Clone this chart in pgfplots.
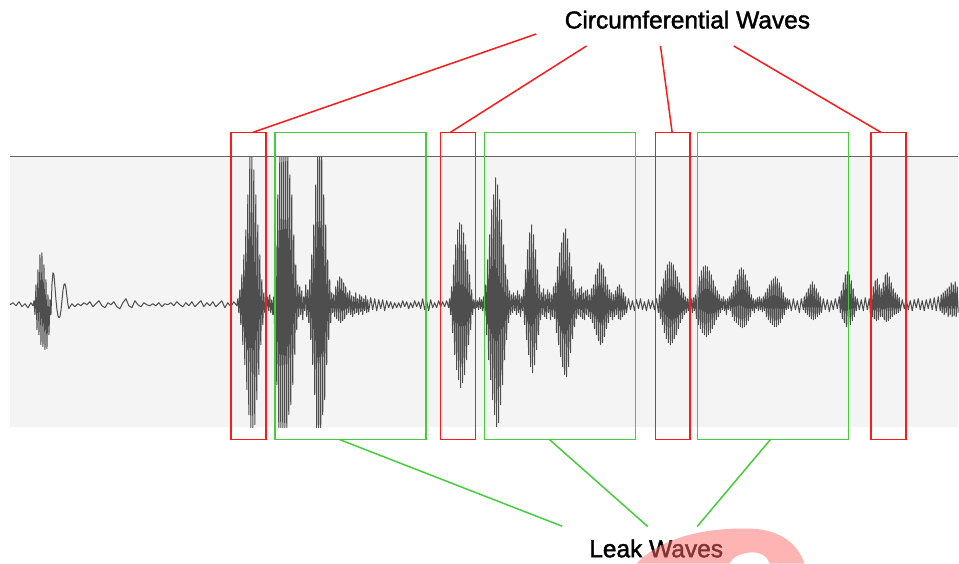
\documentclass[border=0pt]{standalone}
\usepackage{fontspec}
\setmainfont{Liberation Sans}
\newfontfamily\labelfont[FakeBold=1.6]{Liberation Sans}
\usepackage{pgfplots}
\pgfplotsset{compat=1.18}
\definecolor{redbox}{RGB}{255,25,25}
\definecolor{greenbox}{RGB}{70,205,60}
\definecolor{bggray}{RGB}{244,244,244}
\definecolor{topline}{RGB}{100,100,100}
\definecolor{wave}{RGB}{78,78,78}
\definecolor{wm}{RGB}{255,105,105}
\begin{document}
\begin{tikzpicture}
\begin{axis}[scale only axis, width=959pt, height=564pt,
  xmin=0, xmax=959, ymin=-259, ymax=305, hide axis, clip=false]
\path (axis cs:0,-259) rectangle (axis cs:959,305);
% background of the trace area
\addplot[fill=bggray, draw=none] coordinates {(10,148) (959,148) (959,-122.5) (10,-122.5)} -- cycle;
\addplot[topline, line width=1.6pt] coordinates {(10,148.5) (959,148.5)};
% waveform (pixel amplitude about the midline, clipped at the window edges)
\addplot[wave, line width=1.0pt, line join=round] coordinates {
(10,0) (13,2) (16,-1) (19,3) (22,-2) (25,1) (28,-3) (31,2) (33,-1)
(34,4) (35,-10) (36,20) (37,-25) (38,35) (39,-30) (40,50) (41,-40) (42,52) (43,-42) (44,40) (45,-45) (46,25) (47,-44) (48,10) (49,-30) (50,5)
(51,-10) (52,20) (53,32) (54,30) (55,18) (56,5) (57,-5) (58,-11) (59,-13) (60,-12) (61,-6) (62,4) (63,14) (64,20) (65,21) (66,17) (67,8) (68,0) (69,-4) (70,-2) (72,1)
(75,-2) (78,1) (81,-1) (84,2) (87,0) (90,3) (93,-2) (96,1) (99,4) (102,-1) (105,-3) (108,2) (111,0) (114,3) (117,-2) (120,-4) (123,2) (126,6) (129,-1) (132,-3) (135,4) (138,0) (141,-2) (144,2) (147,0) (150,-1) (153,1) (156,-1) (159,2) (162,-2) (165,1) (168,0) (171,2) (174,-1) (177,3) (180,0) (183,-2) (186,2) (189,-1) (192,3) (195,-2) (198,1) (201,4) (204,-2) (207,2) (210,-1) (213,3) (216,-2) (219,1) (222,4) (225,-3) (228,2) (231,-2) (234,3) (237,-1)
(238,6) (239,-8) (240,15) (241,-20) (242,30) (243,-40) (244,50) (245,-60) (246,75) (247,-85) (248,110) (249,-110) (250,148) (251,-123) (252,148) (253,-123) (254,135) (255,-120) (256,110) (257,-95) (258,80) (259,-70) (260,50) (261,-40) (262,25) (263,-20) (264,12) (265,-8)
(266,6) (267,-4) (268,8) (269,-6) (270,10) (271,-8) (272,5) (273,-10) (274,8)
(275,-30) (276,60) (277,-80) (278,110) (279,-123) (280,148) (281,-123) (282,148) (283,-123) (284,148) (285,-123) (286,148) (287,-123) (288,148) (289,-110) (290,130) (291,-100) (292,110) (293,-80) (294,70) (295,-50) (296,40) (297,-25) (298,20)
(299,-12) (300,18) (301,-10) (302,14) (303,-15) (304,8) (305,-6) (306,20) (307,-12) (308,15) (309,-18) (310,25)
(311,-35) (312,50) (313,-60) (314,80) (315,-90) (316,120) (317,-123) (318,148) (319,-123) (320,148) (321,-123) (322,148) (323,-110) (324,110) (325,-95) (326,80) (327,-60) (328,45) (329,-35) (330,25) (331,-18) (332,12)
(333,-8) (334,10) (335,-12) (336,18) (337,-14) (338,24) (339,-16) (340,28) (341,-18) (342,26) (343,-16) (344,22) (345,-14) (346,18) (347,-10) (348,12) (349,-8)
(350,14) (351,-10) (352,9) (353,-12) (354,8) (355,-9) (356,12) (357,-8) (358,6) (359,-10) (360,10) (361,-7) (362,8) (363,-10) (364,6) (365,-6) (366,9) (367,-8) (368,5) (369,-7)
(371,7) (373,-5) (375,6) (377,-6) (379,5) (381,-4) (383,5) (385,-6) (387,4) (389,-3) (391,3) (393,-4) (395,2) (397,-3) (399,2) (401,-3) (403,4) (405,-2) (407,3) (409,-4) (411,2) (413,-3) (415,4) (417,-2) (419,3) (421,-4) (423,6) (425,-5) (427,4) (429,-6) (431,5) (433,-3) (435,2) (437,-3) (439,4) (441,-2) (443,3) (445,-2) (447,4) (449,-3)
(450,6) (451,-10) (452,18) (453,-28) (454,40) (455,-50) (456,60) (457,-65) (458,75) (459,-75) (460,82) (461,-83) (462,80) (463,-78) (464,72) (465,-70) (466,60) (467,-55) (468,45) (469,-40) (470,30) (471,-25) (472,15) (473,-10)
(474,5) (475,-4) (476,6) (477,-3) (478,4) (479,-5) (480,7) (481,-4) (482,5) (483,-6) (484,8) (485,-10)
(486,20) (487,-30) (488,45) (489,-55) (490,70) (491,-75) (492,95) (493,-95) (494,110) (495,-110) (496,127) (497,-122) (498,120) (499,-118) (500,105) (501,-100) (502,85) (503,-80) (504,60) (505,-55) (506,40) (507,-35) (508,25) (509,-18) (510,14) (511,-10)
(512,10) (513,-8) (514,12) (515,-6) (516,9) (517,-10) (518,14) (519,-8) (520,10) (521,-12) (522,8) (523,-6)
(524,15) (525,-20) (526,35) (527,-35) (528,55) (529,-50) (530,72) (531,-62) (532,80) (533,-68) (534,70) (535,-60) (536,55) (537,-45) (538,35) (539,-30) (540,20) (541,-15)
(542,12) (543,-10) (544,16) (545,-12) (546,10) (547,-14) (548,15) (549,-8) (550,12) (551,-15) (552,10) (553,-12) (554,18) (555,-14)
(556,22) (557,-28) (558,38) (559,-40) (560,52) (561,-52) (562,62) (563,-62) (564,72) (565,-70) (566,76) (567,-72) (568,66) (569,-62) (570,52) (571,-48) (572,38) (573,-34) (574,25) (575,-22) (576,16) (577,-14)
(578,12) (579,-10) (580,16) (581,-12) (582,18) (583,-14) (584,12) (585,-15) (586,14) (587,-10) (588,15) (589,-12) (590,10) (591,-14) (592,16) (593,-18) (594,20)
(595,-24) (596,30) (597,-30) (598,36) (599,-36) (600,42) (601,-40) (602,40) (603,-38) (604,36) (605,-32) (606,28) (607,-24) (608,20) (609,-18) (610,15)
(611,-12) (612,12) (613,-15) (614,10) (615,-12) (616,14) (617,-10) (618,18) (619,-14) (620,20) (621,-15) (622,16) (623,-12) (624,12) (625,-10) (626,8) (627,-8)
(629,6) (631,-5) (633,4) (635,-6) (637,5) (639,-4) (641,6) (643,-5) (645,3) (647,-6) (649,5) (651,-4) (653,4) (655,-5) (657,6) (659,-8)
(660,10) (661,-14) (662,18) (663,-20) (664,26) (665,-28) (666,34) (667,-34) (668,40) (669,-38) (670,43) (671,-40) (672,42) (673,-38) (674,40) (675,-34) (676,34) (677,-30) (678,28) (679,-24) (680,22) (681,-18) (682,16) (683,-14) (684,12) (685,-10) (686,8) (687,-8)
(688,6) (689,-6) (690,8) (691,-5) (692,6) (693,-8) (694,7) (695,-6) (696,10)
(697,-14) (698,20) (699,-20) (700,28) (701,-24) (702,34) (703,-28) (704,38) (705,-30) (706,39) (707,-32) (708,38) (709,-30) (710,34) (711,-28) (712,30) (713,-24) (714,24) (715,-20) (716,18) (717,-15) (718,14) (719,-12) (720,10) (721,-8)
(722,6) (723,-5) (724,8) (725,-6) (726,5) (727,-10) (728,6) (729,-5) (730,8) (731,-6)
(732,12) (733,-12) (734,18) (735,-16) (736,24) (737,-18) (738,30) (739,-20) (740,35) (741,-22) (742,37) (743,-23) (744,35) (745,-22) (746,30) (747,-20) (748,24) (749,-16) (750,18) (751,-12) (752,10)
(753,-6) (754,6) (755,-8) (756,5) (757,-4) (758,7) (759,-6) (760,8) (761,-5) (762,6) (763,-7) (764,8) (765,-6)
(766,12) (767,-12) (768,16) (769,-15) (770,20) (771,-18) (772,24) (773,-20) (774,26) (775,-22) (776,28) (777,-22) (778,26) (779,-20) (780,22) (781,-18) (782,18) (783,-14) (784,12) (785,-10)
(786,7) (787,-5) (788,6) (789,-4) (790,5) (792,-6) (794,6) (796,-5) (798,4) (800,-8) (802,6) (804,-5)
(805,8) (806,-8) (807,12) (808,-10) (809,16) (810,-12) (811,20) (812,-14) (813,23) (814,-15) (815,20) (816,-14) (817,16) (818,-12) (819,12) (820,-10) (821,8) (822,-8)
(824,6) (826,-5) (828,5) (830,-7) (832,4) (834,-5) (836,6) (838,-4) (840,8) (841,-8)
(842,14) (843,-14) (844,22) (845,-18) (846,30) (847,-22) (848,33) (849,-23) (850,30) (851,-20) (852,24) (853,-16) (854,16) (855,-12) (856,8)
(857,-6) (858,6) (860,-5) (862,5) (864,-6) (866,7) (868,-5) (870,6) (871,-8)
(872,10) (873,-12) (874,18) (875,-14) (876,24) (877,-16) (878,26) (879,-15) (880,20) (881,-12) (882,16) (883,-12) (884,22) (885,-15) (886,30) (887,-17) (888,32) (889,-16) (890,28) (891,-14) (892,22) (893,-12) (894,16) (895,-10) (896,12) (897,-9) (898,10) (899,-8) (900,7) (901,-6)
(903,5) (905,-4) (907,6) (909,-5) (911,4) (913,-6) (915,5) (917,-3) (919,6) (921,-5) (923,4) (925,-6) (927,5) (929,-4) (931,6) (933,-5) (935,7) (937,-6) (939,8) (941,-6)
(942,10) (943,-8) (944,12) (945,-10) (946,14) (947,-8) (948,16) (949,-12) (950,18) (951,-10) (952,22) (953,-12) (954,20) (955,-11) (956,23) (957,-12) (958,18) (959,-8)
};
% red boxes (circumferential waves)
\draw[redbox, line width=1.6pt] (axis cs:231,172.5) rectangle (axis cs:266,-135);
\draw[redbox, line width=1.6pt] (axis cs:441,172.5) rectangle (axis cs:476,-135);
\draw[redbox, line width=1.6pt] (axis cs:656,172.5) rectangle (axis cs:690.5,-135);
\draw[redbox, line width=1.6pt] (axis cs:872,172.5) rectangle (axis cs:906.7,-135);
% green boxes (leak waves)
\draw[greenbox, line width=1.6pt] (axis cs:275,172.5) rectangle (axis cs:426.5,-135);
\draw[greenbox, line width=1.6pt] (axis cs:485,172.5) rectangle (axis cs:636,-135);
\draw[greenbox, line width=1.6pt] (axis cs:698,172.5) rectangle (axis cs:849.3,-135);
% leader lines
\draw[redbox, line width=1.5pt] (axis cs:536.7,271) -- (axis cs:253,172.5);
\draw[redbox, line width=1.5pt] (axis cs:587,259) -- (axis cs:450.7,172.5);
\draw[redbox, line width=1.5pt] (axis cs:661,259) -- (axis cs:672.7,172.5);
\draw[redbox, line width=1.5pt] (axis cs:734.3,259) -- (axis cs:881.7,172.5);
\draw[greenbox, line width=1.5pt] (axis cs:340,-135) -- (axis cs:562.7,-221.7);
\draw[greenbox, line width=1.5pt] (axis cs:550,-135) -- (axis cs:648.3,-222);
\draw[greenbox, line width=1.5pt] (axis cs:771,-135) -- (axis cs:697.7,-222);
% labels
\node[anchor=base, inner sep=0pt, font=\labelfont\fontsize{24.5}{29}\selectfont] at (axis cs:688,276.5) {Circumferential Waves};
\node[anchor=base, inner sep=0pt, font=\labelfont\fontsize{24.5}{29}\selectfont] at (axis cs:656.7,-252.7) {Leak Waves};
% watermark fragment
\fill[wm, opacity=0.5] (axis cs:637,-259) .. controls (axis cs:660,-235) and (axis cs:700,-223) .. (axis cs:750,-224)
  .. controls (axis cs:785,-225) and (axis cs:800,-243) .. (axis cs:805,-259) -- (axis cs:770,-259)
  .. controls (axis cs:768,-251) and (axis cs:760,-247) .. (axis cs:750,-248)
  .. controls (axis cs:740,-249) and (axis cs:733,-253) .. (axis cs:730,-259) -- cycle;
\end{axis}
\end{tikzpicture}
\end{document}
